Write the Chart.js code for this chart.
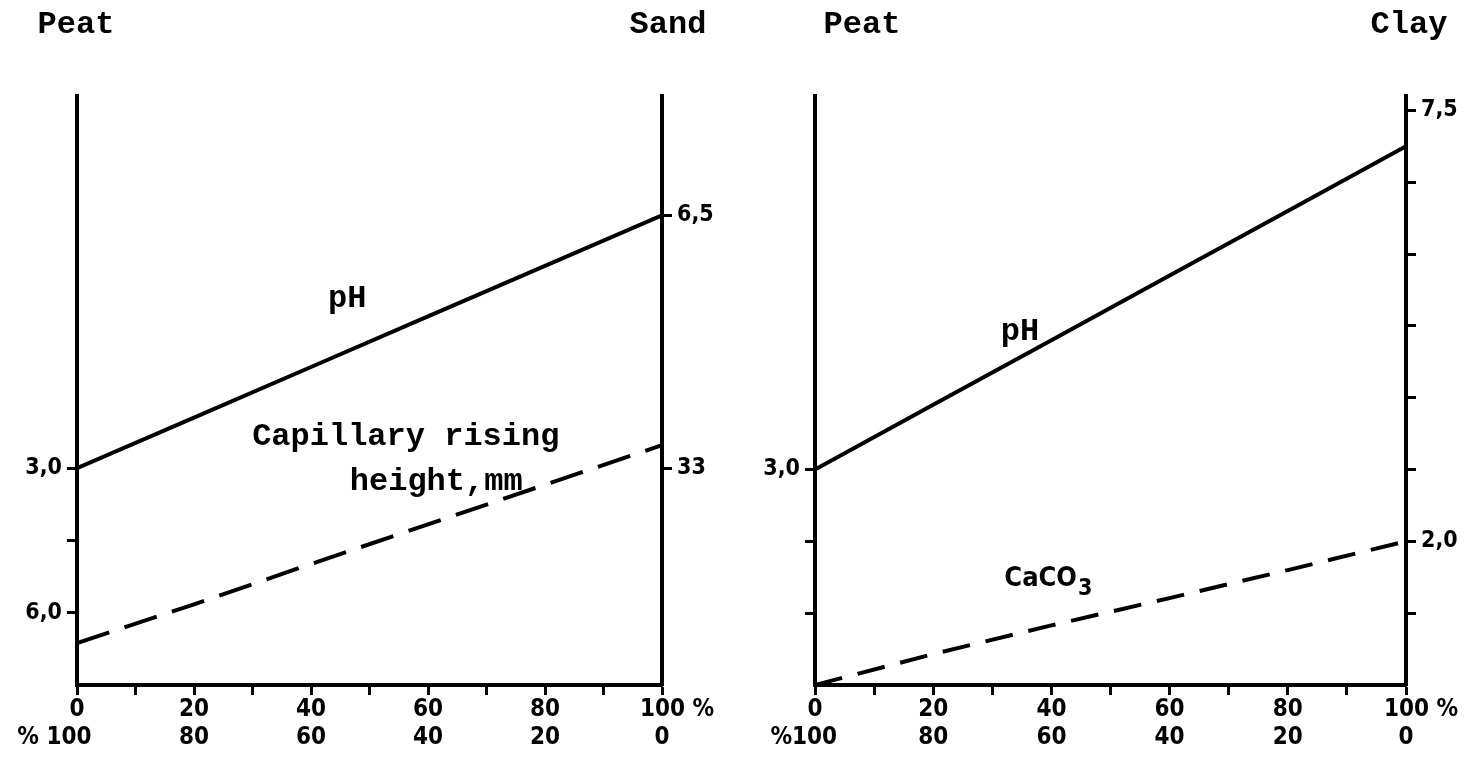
<!DOCTYPE html>
<html><head><meta charset="utf-8">
<script src="https://cdn.jsdelivr.net/npm/chart.js@4.4.1/dist/chart.umd.min.js"></script>
<style>
html,body{margin:0;padding:0;background:#fff;}
#wrap{position:relative;width:1473px;height:766px;overflow:hidden;background:#fff;}
.panel{position:absolute;top:0;height:766px;}
#p1{left:0;width:737px;} #p2{left:737px;width:736px;}
canvas{display:block;}
</style></head><body>
<div id="wrap">
  <div class="panel" id="p1"><canvas id="c1" width="737" height="766"></canvas></div>
  <div class="panel" id="p2"><canvas id="c2" width="736" height="766"></canvas></div>
</div>
<script>
// ---- data (share of mineral soil in the mixture, %) ----
const mixPercent = [0, 20, 40, 60, 80, 100];
// Peat - Sand mixture
const sandPH = [3.0, 3.7, 4.4, 5.1, 5.8, 6.5];
const sandCapillaryMM = [6.0, 11.3, 16.8, 22.2, 27.6, 33.0];
// Peat - Clay mixture
const clayPH = [3.0, 3.9, 4.8, 5.7, 6.6, 7.5];
const clayCaCO3 = [0.0, 0.43, 0.83, 1.21, 1.60, 2.0];

// ---- tick labels ----
const xLabelTicks = [0, 20, 40, 60, 80, 100];
const xLabelsSandTop = ['0', '20', '40', '60', '80', '    100 %'];
const xLabelsSandBottom = ['% 100      ', '80', '60', '40', '20', '0'];
const xLabelsClayTop = ['0', '20', '40', '60', '80', '    100 %'];
const xLabelsClayBottom = ['%100   ', '80', '60', '40', '20', '0'];

const sandLeftTickValues = [1, 2, 3];
const sandLeftTickLabels = ['6,0', '', '3,0'];
const sandRightTickValues = [3, 6.5];
const sandRightTickLabels = ['33', '6,5'];

const clayLeftTickValues = [1, 2, 3];
const clayLeftTickLabels = ['', '', '3,0'];
const clayRightTickValues = [1, 2, 3, 4, 5, 6, 7, 8];
const clayRightTickLabels = ['', '2,0', '', '', '', '', '', '7,5'];

// ---- styling ----
const NUM_FAMILY = "'DejaVu Sans Condensed', 'DejaVu Sans', sans-serif";
const MONO_FONT = "bold 32px 'Liberation Mono', 'DejaVu Sans Mono', monospace";

const notesPlugin = {
  id: 'notes',
  afterDraw(chart, args, opts) {
    const ctx = chart.ctx;
    const xs = chart.scales.x, ys = chart.scales.y;
    const area = chart.chartArea;
    (opts.items || []).forEach(it => {
      ctx.save();
      ctx.font = it.font;
      ctx.fillStyle = '#000';
      ctx.textBaseline = 'alphabetic';
      let px, py;
      if (it.edge) {
        px = (it.edge === 'left' ? area.left : area.right) + it.dx;
        py = it.py;
      } else {
        px = xs.getPixelForValue(it.x);
        py = ys.getPixelForValue(it.y);
      }
      if (it.sub) {
        const w1 = ctx.measureText(it.text).width;
        ctx.save();
        ctx.font = it.subFont;
        const w2 = ctx.measureText(it.sub).width;
        ctx.restore();
        const x0 = px - (w1 + w2) / 2;
        ctx.textAlign = 'left';
        ctx.fillText(it.text, x0, py);
        ctx.font = it.subFont;
        ctx.fillText(it.sub, x0 + w1 + 1, py + 9);
      } else {
        ctx.textAlign = 'center';
        ctx.fillText(it.text, px, py);
      }
      ctx.restore();
    });
  }
};

function tickLabel(values, labels) {
  return (v) => {
    const i = values.findIndex(t => Math.abs(t - v) < 1e-6);
    return i >= 0 ? labels[i] : '';
  };
}

function yAxis(pos, max, values, labels, width) {
  return {
    type: 'linear', position: pos, min: 0, max: max,
    afterBuildTicks: s => { s.ticks = values.map(v => ({ value: v })); },
    afterFit: s => { s.width = width; },
    ticks: {
      autoSkip: false, padding: 5, color: '#000',
      font: { family: NUM_FAMILY, size: 23, weight: 'bold' },
      callback: tickLabel(values, labels)
    },
    grid: { display: true, drawOnChartArea: false, drawTicks: true, tickLength: 10, tickWidth: 3, tickColor: '#000', color: '#000' },
    border: { display: true, color: '#000', width: 4 }
  };
}

function xAxis(top, bottom) {
  return {
    type: 'linear', min: 0, max: 100,
    afterFit: s => { s.height = 81; },
    ticks: {
      stepSize: 10, autoSkip: false, maxRotation: 0, minRotation: 0, padding: 0, color: '#000',
      font: { family: NUM_FAMILY, size: 24, weight: 'bold', lineHeight: 1.2 },
      callback: (v) => {
        const i = xLabelTicks.indexOf(v);
        return i >= 0 ? [top[i], bottom[i]] : '';
      }
    },
    grid: { display: true, drawOnChartArea: false, drawTicks: true, tickLength: 10, tickWidth: 3, tickColor: '#000', color: '#000' },
    border: { display: true, color: '#000', width: 4 }
  };
}

function pts(ys) { return mixPercent.map((x, i) => ({ x: x, y: ys[i] })); }

const baseOpts = {
  responsive: false, animation: false, events: [],
  layout: { padding: { top: 96, left: 0, right: 0, bottom: 0 } },
  elements: { point: { radius: 0 }, line: { tension: 0, borderCapStyle: 'butt' } }
};

// Left panel: Peat - Sand
new Chart(document.getElementById('c1'), {
  type: 'line',
  data: {
    datasets: [
      { label: 'pH', data: pts(sandPH), yAxisID: 'y', borderColor: '#000', borderWidth: 4, fill: false },
      { label: 'Capillary rising height, mm', data: pts(sandCapillaryMM), yAxisID: 'cap', borderColor: '#000', borderWidth: 4, borderDash: [34, 16], fill: false }
    ]
  },
  options: Object.assign({}, baseOpts, {
    scales: {
      x: xAxis(xLabelsSandTop, xLabelsSandBottom),
      y: yAxis('left', 8.15, sandLeftTickValues, sandLeftTickLabels, 77),
      y2: yAxis('right', 8.15, sandRightTickValues, sandRightTickLabels, 75),
      cap: { type: 'linear', display: false, min: 0.3, max: 80.6 }
    },
    plugins: {
      legend: { display: false }, tooltip: { enabled: false },
      notes: { items: [
        { text: 'Peat', edge: 'left', dx: -1, py: 33, font: MONO_FONT },
        { text: 'Sand', edge: 'right', dx: 6, py: 33, font: MONO_FONT },
        { text: 'pH', x: 46.2, y: 5.23, font: MONO_FONT },
        { text: 'Capillary rising', x: 56.2, y: 3.32, font: MONO_FONT },
        { text: 'height,mm', x: 61.4, y: 2.70, font: MONO_FONT }
      ] }
    }
  }),
  plugins: [notesPlugin]
});

// Right panel: Peat - Clay
new Chart(document.getElementById('c2'), {
  type: 'line',
  data: {
    datasets: [
      { label: 'pH', data: pts(clayPH), yAxisID: 'y', borderColor: '#000', borderWidth: 4, fill: false },
      { label: 'CaCO3', data: pts(clayCaCO3), yAxisID: 'y', borderColor: '#000', borderWidth: 4, borderDash: [28, 16], fill: false }
    ]
  },
  options: Object.assign({}, baseOpts, {
    scales: {
      x: xAxis(xLabelsClayTop, xLabelsClayBottom),
      y: yAxis('left', 8.2, clayLeftTickValues, clayLeftTickLabels, 78),
      y2: yAxis('right', 8.2, clayRightTickValues, clayRightTickLabels, 67)
    },
    plugins: {
      legend: { display: false }, tooltip: { enabled: false },
      notes: { items: [
        { text: 'Peat', edge: 'left', dx: 47, py: 33, font: MONO_FONT },
        { text: 'Clay', edge: 'right', dx: 3, py: 33, font: MONO_FONT },
        { text: 'pH', x: 34.7, y: 4.80, font: MONO_FONT },
        { text: 'CaCO', sub: '3', x: 39.4, y: 1.38, font: "bold 27px " + NUM_FAMILY, subFont: "bold 23px " + NUM_FAMILY }
      ] }
    }
  }),
  plugins: [notesPlugin]
});
</script>
</body></html>
